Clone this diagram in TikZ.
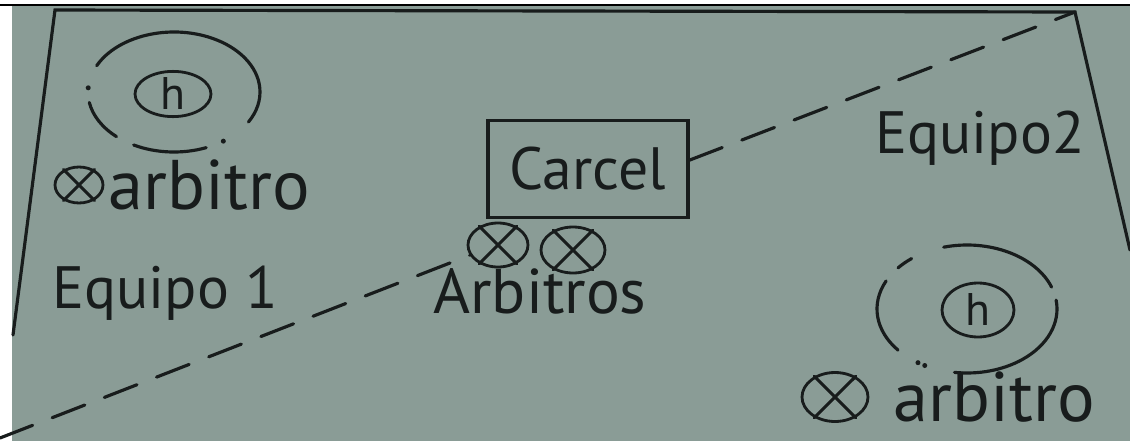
\documentclass[tikz,border=0pt]{standalone}
\usepackage{fontspec}
\setmainfont{PT Sans}
\usetikzlibrary{calc,positioning,shapes.geometric}
\definecolor{papel}{RGB}{138,156,150}
\definecolor{tinta}{RGB}{24,28,28}
\def\ringarc[#1](#2)(#3:#4:#5:#6){\draw[#1] ($(#2)+(#3:#5 and #6)$) arc[start angle=#3, end angle=#4, x radius=#5, y radius=#6];}

\begin{document}
\begin{tikzpicture}[x=0.02cm, y=0.02cm, line cap=round,
	trazo/.style={draw=tinta, line width=1.8pt},
	raya/.style={draw=tinta, line width=1.8pt, dash pattern=on 0.7cm off 0.42cm},
	juez/.style={ellipse, draw=tinta, line width=1.6pt, inner sep=0pt},
	letra/.style={text=tinta, inner sep=0pt}]
		%%%%% START %%%%%
		\useasboundingbox (0,0) rectangle (1130,441);
		\fill[white] (0,0) rectangle (1130,441);
		\fill[papel] (12,0) rectangle (1130,435);
		\draw[black, line width=1.2pt] (0,436) -- (1130,436);
		
		% cancha
		\coordinate (esquina) at (1075,429);
		\coordinate (orilla) at (0,3);
		\draw[trazo] (13,106) -- (55,431) -- (esquina) -- (1130,191);
		
		% equipo 1, arriba a la izquierda
		\coordinate (r1) at (174,349);
		\node[juez, minimum width=1.52cm, minimum height=0.88cm, font=\fontsize{26}{28}\selectfont, text=tinta] (h1) at (173,347) {h};
		\ringarc[trazo](r1)(154:-30:86:60);
		\ringarc[trazo](r1)(-68:-118:86:60);
		\ringarc[trazo](r1)(-132:-170:86:60);
		\fill[tinta] ($(r1)+(-55:86 and 60)$) circle (2.5);
		\fill[tinta] ($(r1)+(176:86 and 60)$) circle (2.5);
		
		\node[juez, minimum width=0.96cm, minimum height=0.72cm] (a1) at (79,256) {};
		\draw[trazo] (a1.45) -- (a1.225) (a1.135) -- (a1.-45);
		\node[letra, font=\fontsize{40}{42}\selectfont, right=0.08cm of a1] (arb1) {arbitro};
		
		\node[letra, font=\fontsize{34}{36}\selectfont] (eq1) at (165,148) {Equipo 1};
		
		% carcel y arbitros del centro
		\node[draw=tinta, line width=1.8pt, minimum width=4cm, minimum height=1.94cm, text=tinta, font=\fontsize{34}{36}\selectfont] (carcel) at (588,272) {Carcel};
		
		\node[juez, minimum width=1.2cm, minimum height=0.88cm] (a3) at (498,196) {};
		\draw[trazo] (a3.45) -- (a3.225) (a3.135) -- (a3.-45);
		\node[juez, minimum width=1.28cm, minimum height=0.92cm] (a4) at (573,191) {};
		\draw[trazo] (a4.45) -- (a4.225) (a4.135) -- (a4.-45);
		\node[letra, font=\fontsize{36}{38}\selectfont] (arbs) at (540,150) {Arbitros};
		
		\draw[raya] (carcel.5) -- (esquina);
		\draw[raya] (orilla) -- (a3.200);
		
		% equipo 2, abajo a la derecha
		\node[letra, font=\fontsize{34}{36}\selectfont] (eq2) at (980,303) {Equipo2};
		
		\coordinate (r2) at (967,132);
		\node[juez, minimum width=1.44cm, minimum height=1.08cm, font=\fontsize{26}{28}\selectfont, text=tinta] (h2) at (978,131) {h};
		\ringarc[trazo](r2)(105:20:90:64);
		\ringarc[trazo](r2)(8:-98:90:64);
		\ringarc[trazo](r2)(154:220:90:64);
		\ringarc[trazo](r2)(128:140:90:64);
		\fill[tinta] ($(r2)+(-118:90 and 64)$) circle (2.5);
		\fill[tinta] ($(r2)+(-123:90 and 64)$) circle (2.5);
		
		\node[juez, minimum width=1.32cm, minimum height=0.98cm] (a2) at (835,44) {};
		\draw[trazo] (a2.45) -- (a2.225) (a2.135) -- (a2.-45);
		\node[letra, font=\fontsize{40}{42}\selectfont, right=0.48cm of a2] (arb2) {arbitro};
		%%%%% END %%%%%
	\end{tikzpicture}
\end{document}
